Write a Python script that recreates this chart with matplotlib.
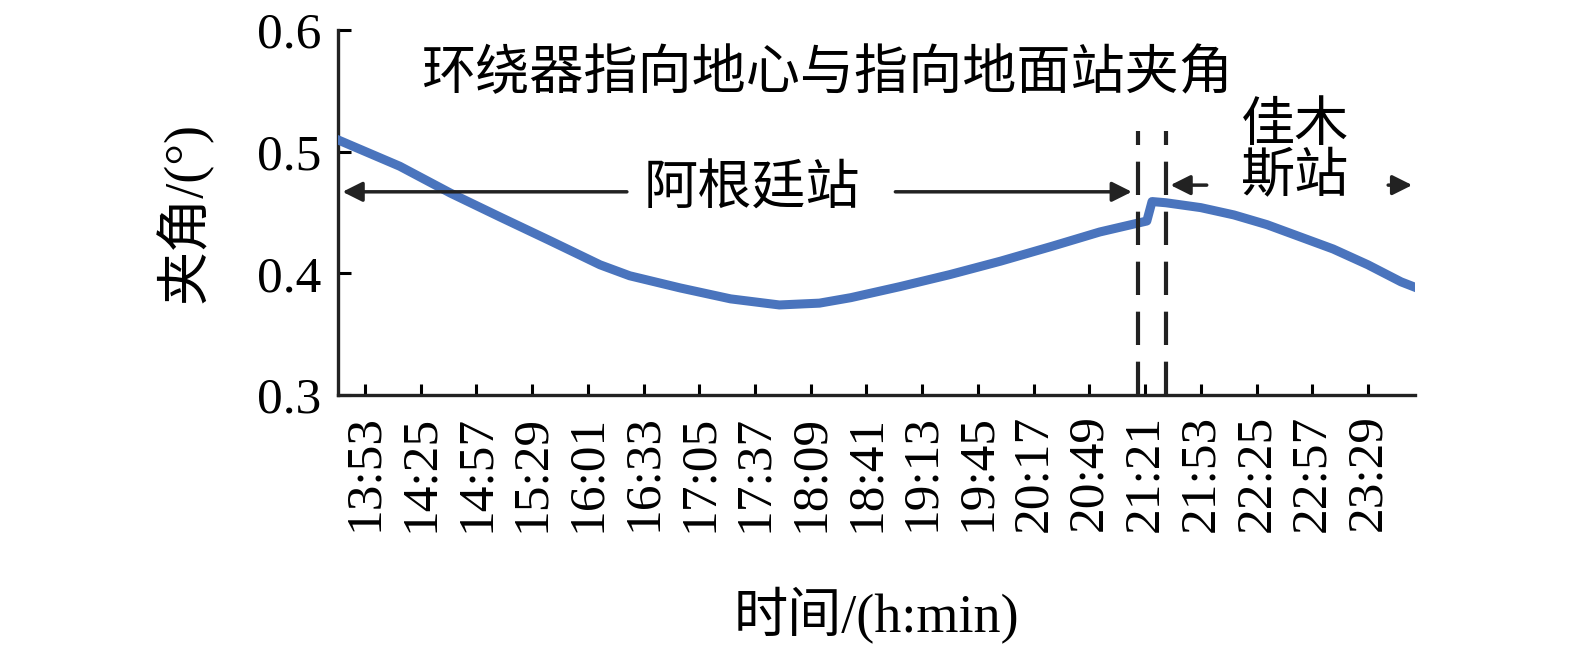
import matplotlib
matplotlib.use("Agg")
import matplotlib.pyplot as plt

plt.rcParams['font.family'] = ['Liberation Serif', 'Noto Sans CJK SC']
plt.rcParams['axes.unicode_minus'] = False

# curve (time of day, angle in degrees)
times = ["13:37", "14:13", "14:42", "15:11", "15:39", "16:08", "16:25", "16:54",
         "17:23", "17:51", "18:14", "18:32", "19:00", "19:29", "19:58", "20:27",
         "20:55", "21:22", "21:25", "21:33", "21:53", "22:12", "22:31", "22:50",
         "23:09", "23:29", "23:48", "23:57"]
angle = [0.510, 0.488, 0.466, 0.446, 0.427, 0.407, 0.398, 0.388,
         0.379, 0.374, 0.3755, 0.380, 0.389, 0.399, 0.410, 0.422,
         0.434, 0.443, 0.459, 0.458, 0.454, 0.448, 0.440, 0.430,
         0.420, 0.407, 0.393, 0.388]
tick_labels = ["13:53", "14:25", "14:57", "15:29", "16:01", "16:33", "17:05",
               "17:37", "18:09", "18:41", "19:13", "19:45", "20:17", "20:49",
               "21:21", "21:53", "22:25", "22:57", "23:29"]
switch_times = ["21:17", "21:33"]


def to_min(s):
    h, m = s.split(":")
    return int(h) * 60 + int(m)


x = [to_min(t) for t in times]
ticks = [to_min(t) for t in tick_labels]
sw = [to_min(t) for t in switch_times]

fig = plt.figure(figsize=(15.75, 6.45), dpi=100)
ax = fig.add_axes([0.2146, 0.3876, 0.8984 - 0.2146, 0.9535 - 0.3876])

ax.plot(x, angle, color="#4a74bd", lw=6.5, solid_joinstyle="round", zorder=3)

for s in sw:
    ax.plot([s, s], [0.3, 0.517], color="#222222", lw=3, ls=(0, (8, 4)), zorder=4)

x0, x1 = 817.5, 1436
ax.set_xlim(x0, x1)
ax.set_ylim(0.3, 0.6)

ax.set_xticks(ticks)
ax.set_xticklabels(tick_labels, rotation=90, fontsize=37)
ax.set_yticks([0.3, 0.4, 0.5, 0.6])
ax.set_yticklabels(["0.3", "0.4", "0.5", "0.6"], fontsize=37)
ax.tick_params(axis="x", direction="in", length=8, width=2.2, pad=14)
ax.tick_params(axis="y", direction="in", length=9, width=2.2, pad=12)

for side in ["top", "right"]:
    ax.spines[side].set_visible(False)
for side in ["left", "bottom"]:
    ax.spines[side].set_linewidth(2.4)
    ax.spines[side].set_color("#222222")

ax.set_xlabel("时间/(h:min)", fontsize=39, labelpad=40)
ax.set_ylabel("夹角/(°)", fontsize=39, labelpad=32)

ax.text(0.454, 0.875, "环绕器指向地心与指向地面站夹角", transform=ax.transAxes,
        fontsize=39, ha="center", va="center")

# station arrows
arr = dict(arrowstyle="-|>", color="#222222", lw=2.5, mutation_scale=30)
ya = 0.467
ax.annotate("", xy=(x0 + 1, ya), xytext=(985, ya), arrowprops=arr)
ax.annotate("", xy=(1275, ya), xytext=(1136, ya), arrowprops=arr)
ax.text(1055, ya, "阿根廷站", fontsize=39, ha="center", va="center")

yb = 0.4725
ax.annotate("", xy=(1294, yb), xytext=(1318, yb), arrowprops=arr)
ax.annotate("", xy=(x1, yb), xytext=(1419, yb), arrowprops=arr)
ax.text(1367, 0.4985, "佳木\n斯站", fontsize=39, ha="center", va="center",
        linespacing=1.0)

fig.savefig("out.png", dpi=100)
